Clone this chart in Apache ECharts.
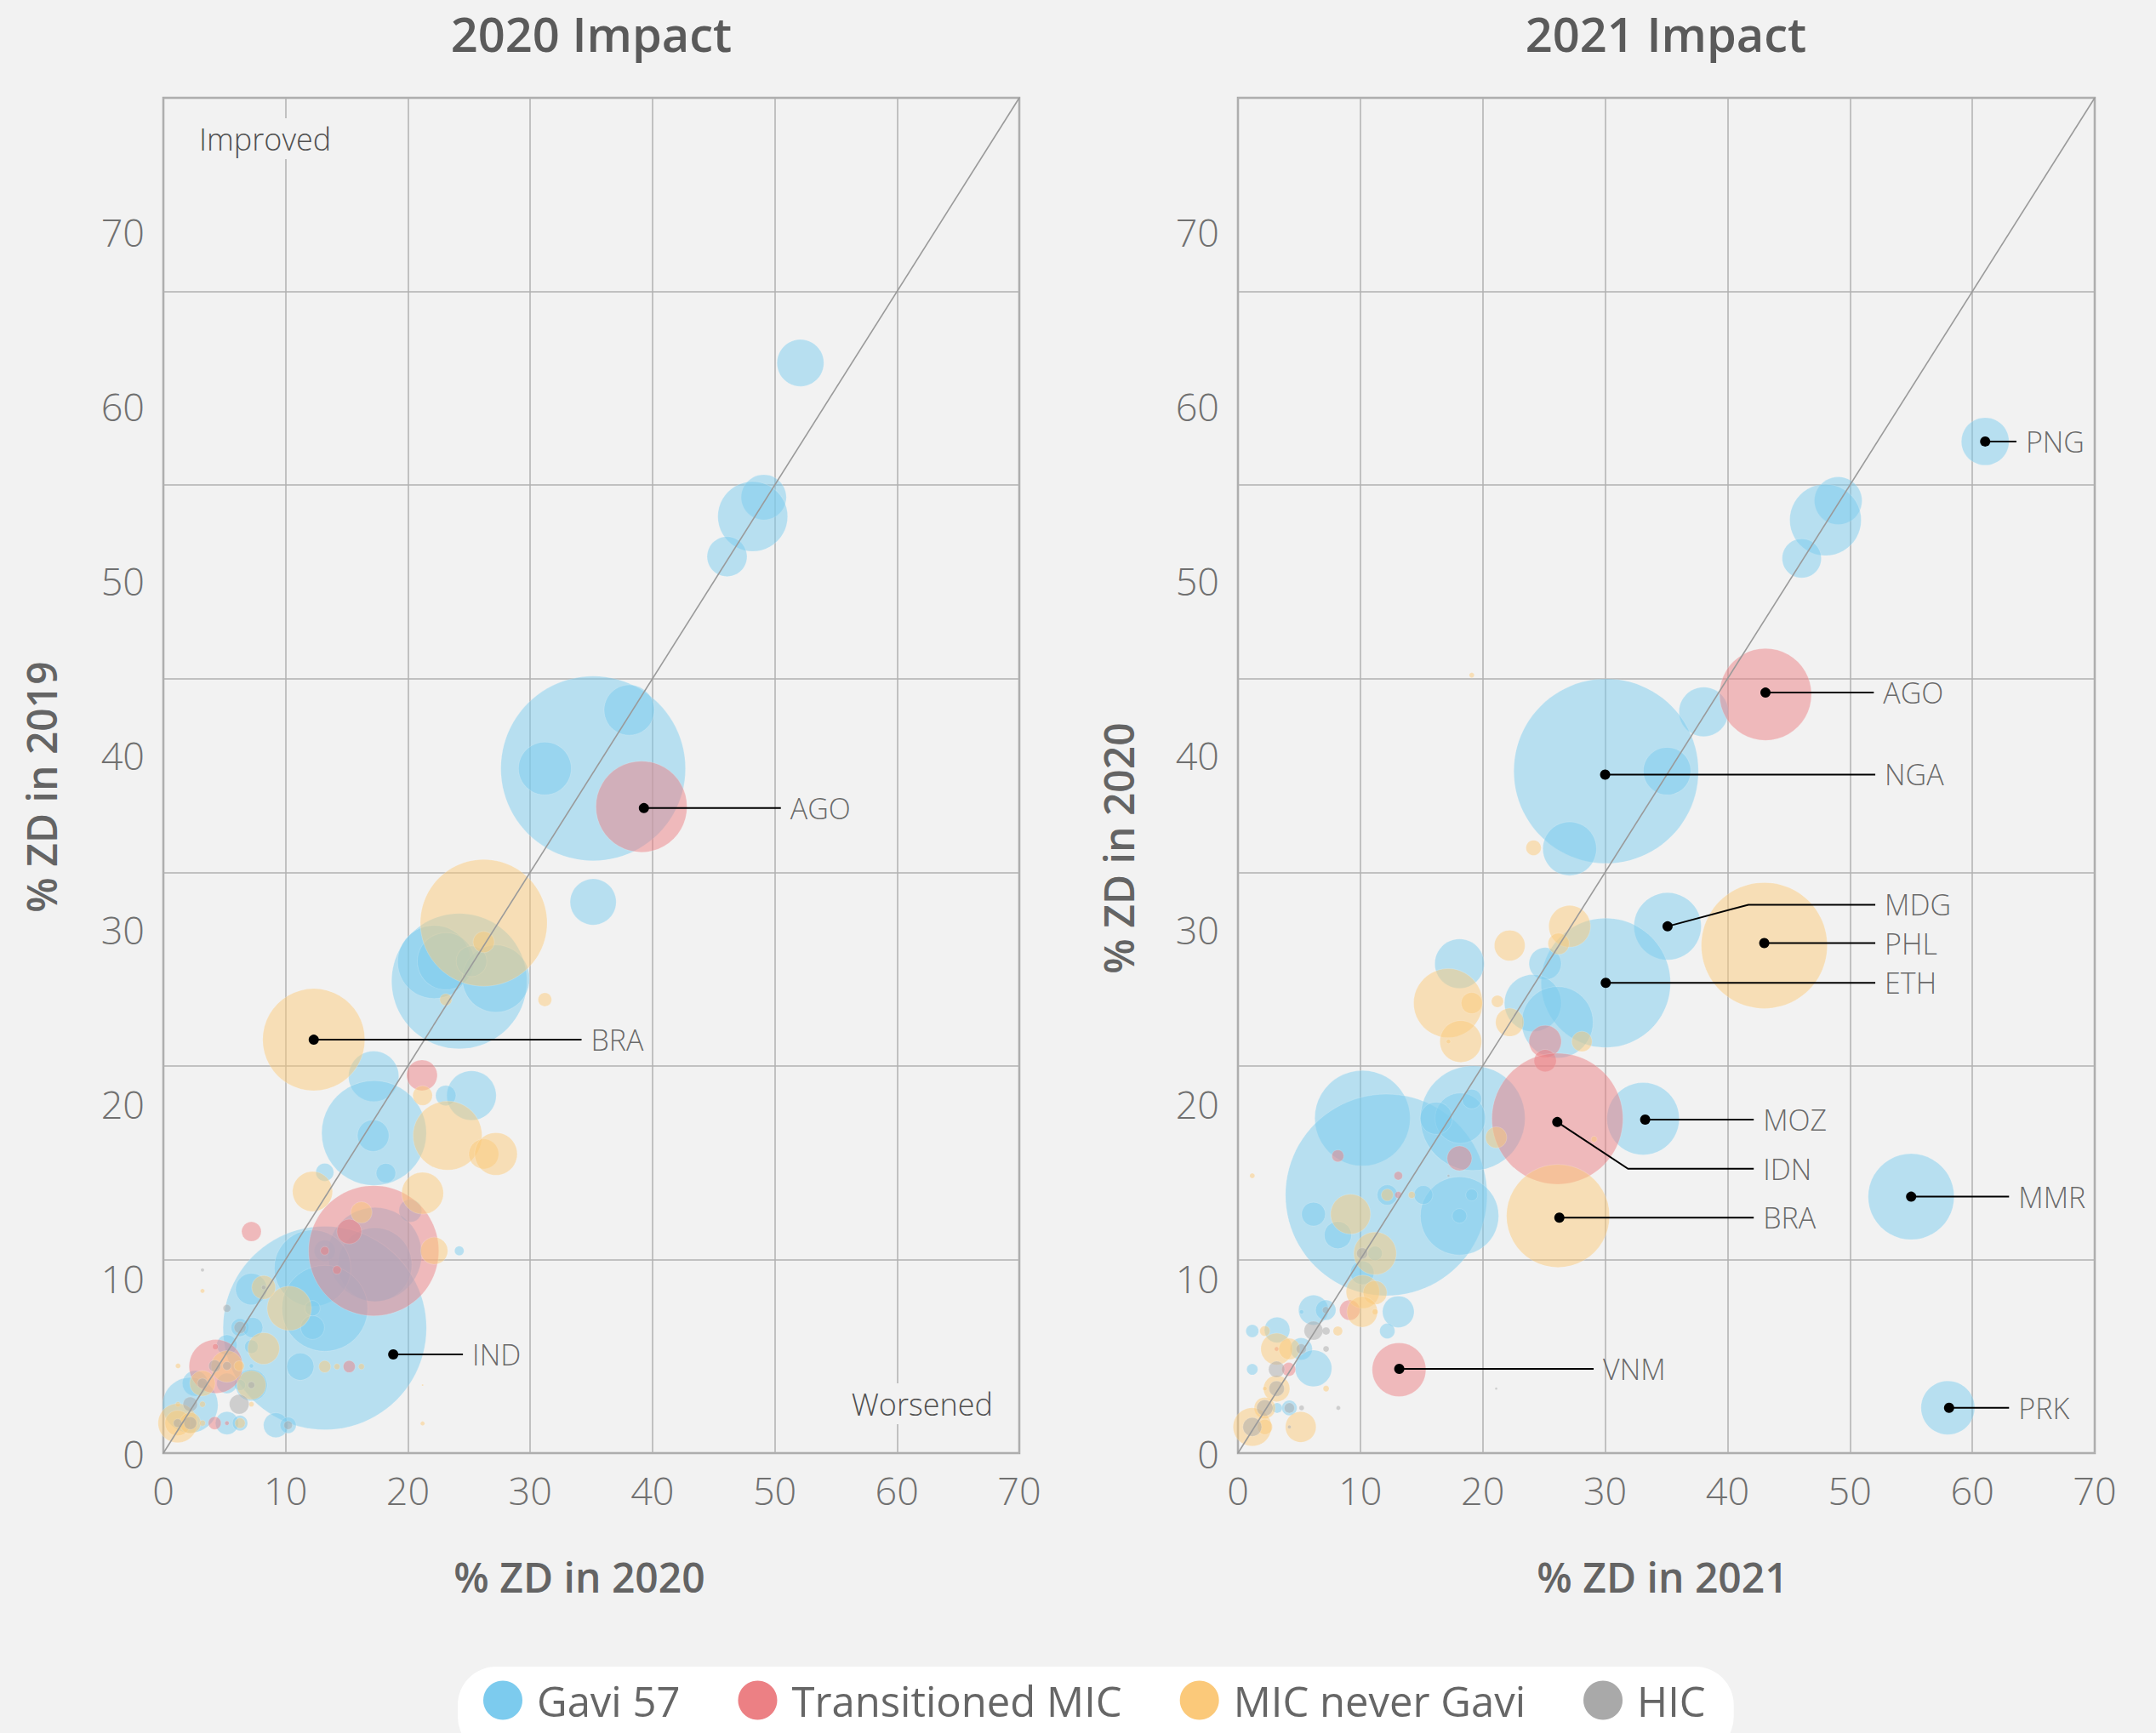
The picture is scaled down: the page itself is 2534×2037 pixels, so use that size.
<!DOCTYPE html>
<html>
<head>
<meta charset="utf-8">
<script src="https://cdn.jsdelivr.net/npm/echarts@6/dist/echarts.min.js"></script>
<style>
html,body{margin:0;padding:0;background:#f2f2f2;}
#chart{width:2534px;height:2037px;}
</style>
</head>
<body>
<div id="chart"></div>
<script>
// ---------------- DATA ----------------
const groups = ['Gavi 57', 'Transitioned MIC', 'MIC never Gavi', 'HIC'];
const xTicks = [0, 10, 20, 30, 40, 50, 60, 70];
const yTicks = [0, 10, 20, 30, 40, 50, 60, 70];
const panelTitles = ['2020 Impact', '2021 Impact'];
const xNames = ['% ZD in 2020', '% ZD in 2021'];
const yNames = ['% ZD in 2019', '% ZD in 2020'];
const quadrantNotes = ['Improved', 'Worsened'];

// 2020 panel: [% ZD in 2020, % ZD in 2019, zero-dose children (thousands)]
const gavi2020 = [[52.1,62.5,143],[49.1,54.8,133],[48.2,53.7,318],[46.1,51.4,104],[35.15,39.25,2225],[38.1,42.6,165],[31.2,39.25,182],[35.15,31.6,138],[24.2,27.06,1195],[22.15,28.16,350],[23.1,28.2,212],[27.2,27.2,295],[25.2,28.2,61],[17.2,21.6,165],[25.2,20.5,159],[23.1,20.5,27],[17.23,18.35,715],[17.16,18.2,65],[18.2,16.05,25],[13.2,16.1,21],[17.3,11.4,572],[17.3,10.8,358],[20.2,13.9,34],[24.2,11.6,5.7],[13.2,11.6,29.5],[13.2,7.17,2700],[12.2,10.6,383],[13.2,8.3,482],[12.2,7.2,37],[12.2,8.3,15],[7.2,9.4,65],[11.2,4.96,48],[9.2,1.6,40],[10.2,1.6,17],[6.27,7.2,21],[7.3,7.2,27],[7.2,6.1,12],[5.2,6.2,27],[7.2,3.9,65],[6.27,3.9,8],[5.2,4.0,27],[2.6,4.0,42.5],[2.2,2.75,200],[5.2,1.72,34.5],[6.27,1.72,15],[7.2,5.0,1.2]];
const transitioned2020 = [[39.1,37.06,541],[21.15,21.66,61],[17.2,11.6,1106],[15.2,12.7,40],[13.2,11.6,4.7],[14.2,10.5,4.7],[15.2,4.96,9.3],[7.2,12.7,25],[4.3,4.97,188],[4.25,6.1,2.3],[4.2,1.72,10.6],[5.2,1.72,1.2]];
const micNever2020 = [[26.2,30.4,1049],[26.2,29.3,29.5],[31.2,26.0,12],[23.1,26.0,9.3],[12.3,23.7,680],[21.2,20.5,25],[23.24,18.2,310],[26.2,17.15,58],[27.2,17.15,118],[12.2,15.0,104],[21.2,14.9,113.5],[16.2,13.8,29.5],[22.15,11.6,48],[10.3,8.3,128],[8.2,9.5,37],[8.2,6.0,65],[13.2,4.96,9.3],[14.2,4.96,2.3],[16.2,4.96,2.3],[3.2,9.3,1.2],[21.2,1.7,1.2],[5.2,4.97,65],[6.2,5.0,6.8],[1.2,5.0,1.7],[7.2,3.9,54.6],[3.2,4.0,42.5],[1.2,2.8,1.7],[3.2,2.8,2.3],[7.2,2.8,1.7],[1.17,1.72,100],[1.17,1.72,42.5],[2.2,1.72,29.5],[3.2,1.72,2.3],[6.27,1.72,6.8],[21.2,3.9,0.2]];
const hic2020 = [[3.2,10.5,0.8],[5.2,8.3,3.8],[6.27,7.2,9.3],[4.2,5.0,9.3],[5.2,5.0,4.7],[7.2,3.9,3],[3.2,4.0,6.8],[2.2,2.8,13.7],[6.2,2.8,25],[2.2,1.72,10.6],[10.2,1.6,4.7],[8.2,9.5,1.2],[1.17,1.72,4.7]];

// 2021 panel: [% ZD in 2021, % ZD in 2020, zero-dose children (thousands)]
const gavi2021 = [[61.05,58.0,148],[49.04,54.6,148],[48.0,53.5,333],[46.06,51.3,100],[38.05,42.5,159],[30.08,39.1,2225],[35.06,39.1,148],[27.1,34.65,188],[35.1,30.2,295],[30.05,26.96,1092],[18.1,28.06,159],[25.1,28.06,68],[24.1,25.8,212],[26.1,24.7,333],[33.1,19.17,341],[10.17,19.2,593],[12.12,14.8,2654],[19.18,19.2,715],[18.16,19.2,165],[16.2,19.2,68],[19.1,20.3,25],[18.1,13.6,400],[19.1,14.8,9.3],[18.1,13.6,13.7],[15.15,14.8,23],[12.2,14.8,27],[6.17,13.7,37],[8.16,12.5,48],[10.15,10.34,37],[13.1,8.1,65],[12.2,7.0,15],[6.17,8.2,58],[7.17,8.2,27],[5.2,8.1,1.2],[3.2,7.06,42.5],[1.17,7.0,10.6],[5.17,5.97,32],[6.17,4.86,87],[1.17,4.8,8],[3.2,2.59,6.8],[4.2,2.59,15],[55.0,14.7,482],[58.0,2.6,188],[11.2,11.45,13.7]];
const transitioned2021 = [[43.1,43.5,551],[25.1,23.6,68],[25.1,22.5,32],[26.1,19.17,1121],[18.1,16.9,40],[13.1,14.8,3],[13.1,15.9,4.7],[8.16,17.04,9.3],[9.13,8.2,27],[13.16,4.78,188],[4.15,4.8,12],[3.16,5.97,1.2]];
const micNever2021 = [[43.0,29.1,1035],[19.1,44.6,1.7],[24.15,34.7,15],[27.1,30.2,113.5],[26.2,29.2,29.5],[22.2,29.1,61],[17.17,25.8,310],[19.1,25.8,29.5],[21.2,25.9,9.3],[22.2,24.7,51.5],[18.2,23.6,113.5],[28.1,23.6,27],[17.2,23.6,1.2],[26.15,13.6,692],[21.1,18.1,29.5],[29.1,18.0,2.3],[14.2,14.8,3],[12.2,14.8,9.3],[1.17,15.9,1.7],[9.2,13.7,104],[11.2,11.45,118],[10.2,9.25,72],[11.2,9.2,37],[10.15,8.1,61],[11.2,8.1,2.3],[8.16,7.0,5.7],[2.2,7.0,6.8],[3.16,5.97,65],[4.2,5.97,29.5],[3.16,3.7,45.4],[2.2,3.7,1.2],[7.2,3.7,2.3],[2.19,2.59,29.5],[1.17,1.5,96],[2.2,1.5,15],[5.13,1.5,61]];
const hic2021 = [[10.15,11.45,8],[6.17,7.02,23],[7.2,7.0,3.8],[7.17,8.2,3],[5.17,5.97,6.8],[7.2,5.97,2.3],[3.16,4.8,17],[3.16,3.7,15.3],[2.19,2.59,17],[4.2,2.59,6.8],[5.2,2.59,1.7],[8.2,2.59,1.2],[1.17,1.5,23],[17.2,15.9,0.4],[4.2,1.5,0.8],[21.1,3.7,0.4]];

// Callouts: [label, x, y, leader end x, (elbow x, elbow y)]
const notes2020 = [['AGO',39.3,36.98,50.5],['BRA',12.3,23.7,34.2],['IND',18.8,5.66,24.5]];
const notes2021 = [['PNG',61.05,58.0,63.6],['AGO',43.1,43.6,51.95],['NGA',30.0,38.9,52.07],['MDG',35.1,30.2,52.07,41.7,31.44],['PHL',43.0,29.24,52.07],['ETH',30.05,26.96,52.07],['MOZ',33.27,19.12,42.14],['IDN',26.09,18.98,42.14,31.87,16.3],['BRA',26.26,13.5,42.14],['MMR',55.0,14.7,63.0],['VNM',13.18,4.83,29.06],['PRK',58.1,2.6,63.0]];

// ---------------- STYLE / LAYOUT ----------------
const FONT = "'Open Sans', 'Noto Sans', sans-serif";
const COLORS = ['#7ccbee', '#ec8084', '#fbc97a', '#a9a9a9'];
const X_MAX = 70, Y_MAX = 77.7, GRID_DIV = 7;
const grids = [
  {left: 192, top: 115, width: 1006, height: 1593},
  {left: 1455, top: 115, width: 1007, height: 1593}
];
const panels = [
  [gavi2020, transitioned2020, micNever2020, hic2020],
  [gavi2021, transitioned2021, micNever2021, hic2021]
];
const notes = [notes2020, notes2021];

const chart = echarts.init(document.getElementById('chart'), null, {renderer: 'svg'});

const xAxes = [], yAxes = [], series = [];
grids.forEach((g, gi) => {
  xAxes.push({
    gridIndex: gi, type: 'value', min: 0, max: X_MAX, interval: xTicks[1] - xTicks[0],
    axisLine: {show: false}, axisTick: {show: false},
    axisLabel: {fontSize: 45, color: '#707070', fontWeight: 300, fontFamily: FONT, margin: 21},
    splitLine: {show: true, lineStyle: {color: '#b0b0b0', width: 1.5}}
  });
  yAxes.push({
    gridIndex: gi, type: 'value', min: 0, max: Y_MAX, interval: yTicks[1] - yTicks[0],
    axisLine: {show: false}, axisTick: {show: false}, splitLine: {show: false},
    axisLabel: {fontSize: 45, color: '#707070', fontWeight: 300, fontFamily: FONT, margin: 22,
      formatter: v => (yTicks.indexOf(v) >= 0 ? String(v) : '')}
  });
  yAxes.push({
    gridIndex: gi, type: 'value', min: 0, max: GRID_DIV, interval: 1, position: 'right',
    axisLine: {show: false}, axisTick: {show: false}, axisLabel: {show: false},
    splitLine: {show: true, lineStyle: {color: '#b0b0b0', width: 1.5}}
  });

  panels[gi].forEach((data, k) => {
    series.push({
      type: 'scatter', name: groups[k], data: data,
      xAxisIndex: gi, yAxisIndex: gi * 2,
      symbolSize: v => 4.6 * Math.sqrt(v[2]),
      itemStyle: {color: COLORS[k], opacity: 0.5, borderColor: 'rgba(255,255,255,0.35)', borderWidth: 1},
      emphasis: {disabled: true}, silent: true, z: 2
    });
  });

  // diagonal corner-to-corner reference line
  series.push({
    type: 'line', name: 'diag' + gi, xAxisIndex: gi, yAxisIndex: gi * 2,
    data: [[0, 0], [X_MAX, Y_MAX]], symbol: 'none', silent: true,
    lineStyle: {color: '#9a9a9a', width: 1.6}, z: 4
  });

  // callouts
  const nts = notes[gi];
  series.push({
    type: 'lines', name: 'leaders' + gi, coordinateSystem: 'cartesian2d',
    xAxisIndex: gi, yAxisIndex: gi * 2, polyline: true, silent: true,
    lineStyle: {color: '#000', width: 2, opacity: 1}, z: 8,
    data: nts.map(n => {
      const pts = [[n[1], n[2]]];
      let ly = n[2];
      if (n.length > 4) { pts.push([n[4], n[5]]); ly = n[5]; }
      pts.push([n[3], ly]);
      return {coords: pts};
    })
  });
  series.push({
    type: 'scatter', name: 'dots' + gi, xAxisIndex: gi, yAxisIndex: gi * 2,
    data: nts.map(n => [n[1], n[2]]), symbolSize: 12, silent: true,
    itemStyle: {color: '#000', opacity: 1}, z: 9
  });
  series.push({
    type: 'scatter', name: 'labels' + gi, xAxisIndex: gi, yAxisIndex: gi * 2,
    data: nts.map(n => ({value: [n[3], n.length > 4 ? n[5] : n[2]], name: n[0]})),
    symbolSize: 0, silent: true, z: 9,
    label: {show: true, position: 'right', distance: 11, formatter: p => p.name,
      fontSize: 34, color: '#454545', fontWeight: 300, fontFamily: FONT}
  });
});

const graphics = [];
const titleX = [695, 1958];
const xNameX = [681, 1954];
const yNamePos = [[48, 925], [1314, 997]];
for (let i = 0; i < 2; i++) {
  graphics.push({type: 'text', x: titleX[i], y: 39, z: 100,
    style: {text: panelTitles[i], font: '600 56px ' + FONT, fill: '#5a5a5a', textAlign: 'center', textVerticalAlign: 'middle'}});
  graphics.push({type: 'text', x: xNameX[i], y: 1853, z: 100,
    style: {text: xNames[i], font: '600 48px ' + FONT, fill: '#646464', textAlign: 'center', textVerticalAlign: 'middle'}});
  graphics.push({type: 'text', x: yNamePos[i][0], y: yNamePos[i][1], rotation: Math.PI / 2, z: 100,
    style: {text: yNames[i], font: '600 48px ' + FONT, fill: '#646464', textAlign: 'center', textVerticalAlign: 'middle'}});
}
graphics.push({type: 'text', x: 229, y: 163, z: 100,
  style: {text: quadrantNotes[0], font: '300 36px ' + FONT, fill: '#505050', textAlign: 'left', textVerticalAlign: 'middle',
    backgroundColor: '#f2f2f2', padding: [6, 5]}});
graphics.push({type: 'text', x: 1172, y: 1650, z: 100,
  style: {text: quadrantNotes[1], font: '300 36px ' + FONT, fill: '#505050', textAlign: 'right', textVerticalAlign: 'middle',
    backgroundColor: '#f2f2f2', padding: [6, 5]}});

const option = {
  backgroundColor: '#f2f2f2',
  animation: false,
  grid: grids.map(g => Object.assign({show: true, borderColor: '#a6a6a6', borderWidth: 2.5, backgroundColor: 'transparent', containLabel: false}, g)),
  xAxis: xAxes,
  yAxis: yAxes,
  legend: {
    data: groups.map((g, i) => ({name: g, icon: 'circle', itemStyle: {color: COLORS[i], opacity: 1, borderWidth: 0}})),
    selectedMode: false, left: 538, top: 1959, orient: 'horizontal',
    itemWidth: 46, itemHeight: 46, itemGap: 68,
    padding: [15, 33, 40, 30], backgroundColor: '#ffffff', borderRadius: 45,
    textStyle: {fontSize: 49, color: '#666', fontWeight: 500, fontFamily: FONT, padding: [0, 0, 0, 12]}
  },
  graphic: graphics,
  series: series
};
chart.setOption(option);
</script>
</body>
</html>
